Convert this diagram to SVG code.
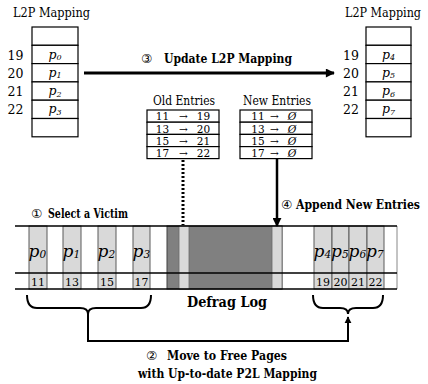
<svg xmlns="http://www.w3.org/2000/svg" width="428" height="384" viewBox="0 0 428 384">
  <defs>
    <style>
      text { font-family: "DejaVu Serif", serif; fill: #000; }
      .circ { font-family: "DejaVu Sans", "Noto Sans CJK JP", sans-serif; font-size: 12.5px; }
      .title { font-size: 12px; }
      .lpn { font-size: 12.5px; }
      .pl { font-size: 12.5px; font-style: italic; }
      .pl tspan { font-size: 8px; }
      .ent { font-size: 10.5px; text-anchor: middle; }
      .head { font-size: 12.5px; }
      .lbl { font-size: 12px; font-weight: bold; }
      .big { font-size: 14px; font-weight: bold; }
      .cell { fill: #fff; stroke: #000; stroke-width: 1.2; }
      .page { fill: #d9d9d9; stroke: #5a5a5a; stroke-width: 1; }
      .lp { font-size: 17px; font-style: italic; }
      .lp tspan { font-size: 10.5px; }
      .num { font-size: 11px; }
      .wire { fill: none; stroke: #000; stroke-width: 2; }
    </style>
    <marker id="head" viewBox="0 0 10 10" refX="9" refY="5" markerWidth="3.5" markerHeight="3" orient="auto" markerUnits="strokeWidth">
      <path d="M0,0 L10,5 L0,10 z" fill="#000"/>
    </marker>
    <marker id="headS" viewBox="0 0 10 10" refX="9" refY="5" markerWidth="3.6" markerHeight="3.6" orient="auto" markerUnits="strokeWidth">
      <path d="M0,0 L10,5 L0,10 z" fill="#000"/>
    </marker>
  </defs>

  <!-- Left L2P mapping table -->
  <g id="l2p-old">
    <text class="title" x="13" y="17" textLength="77" lengthAdjust="spacingAndGlyphs">L2P Mapping</text>
    <rect class="cell" x="32" y="27" width="46" height="18.3"/>
    <rect class="cell" x="32" y="45.3" width="46" height="18.3"/>
    <rect class="cell" x="32" y="63.6" width="46" height="18.3"/>
    <rect class="cell" x="32" y="81.9" width="46" height="18.3"/>
    <rect class="cell" x="32" y="100.2" width="46" height="18.3"/>
    <rect class="cell" x="32" y="118.5" width="46" height="18.3"/>
    <text class="lpn" x="7.5" y="59.5">19</text>
    <text class="lpn" x="7.5" y="77.5">20</text>
    <text class="lpn" x="7.5" y="95.5">21</text>
    <text class="lpn" x="7.5" y="113.5">22</text>
    <text class="pl" x="55" y="58.5" text-anchor="middle">p<tspan dy="1.5">0</tspan></text>
    <text class="pl" x="55" y="76.8" text-anchor="middle">p<tspan dy="1.5">1</tspan></text>
    <text class="pl" x="55" y="95.1" text-anchor="middle">p<tspan dy="1.5">2</tspan></text>
    <text class="pl" x="55" y="113.4" text-anchor="middle">p<tspan dy="1.5">3</tspan></text>
  </g>

  <!-- Right L2P mapping table -->
  <g id="l2p-new">
    <text class="title" x="345" y="17" textLength="76" lengthAdjust="spacingAndGlyphs">L2P Mapping</text>
    <rect class="cell" x="366" y="27" width="45" height="18.3"/>
    <rect class="cell" x="366" y="45.3" width="45" height="18.3"/>
    <rect class="cell" x="366" y="63.6" width="45" height="18.3"/>
    <rect class="cell" x="366" y="81.9" width="45" height="18.3"/>
    <rect class="cell" x="366" y="100.2" width="45" height="18.3"/>
    <rect class="cell" x="366" y="118.5" width="45" height="18.3"/>
    <text class="lpn" x="343" y="59.5">19</text>
    <text class="lpn" x="343" y="77.5">20</text>
    <text class="lpn" x="343" y="95.5">21</text>
    <text class="lpn" x="343" y="113.5">22</text>
    <text class="pl" x="388.5" y="58.5" text-anchor="middle">p<tspan dy="1.5">4</tspan></text>
    <text class="pl" x="388.5" y="76.8" text-anchor="middle">p<tspan dy="1.5">5</tspan></text>
    <text class="pl" x="388.5" y="95.1" text-anchor="middle">p<tspan dy="1.5">6</tspan></text>
    <text class="pl" x="388.5" y="113.4" text-anchor="middle">p<tspan dy="1.5">7</tspan></text>
  </g>

  <!-- Old entries table -->
  <g id="old-entries">
    <text class="head" x="153" y="105" textLength="62" lengthAdjust="spacingAndGlyphs">Old Entries</text>
    <rect class="cell" x="147" y="110" width="72" height="12.2"/>
    <rect class="cell" x="147" y="122.2" width="72" height="12.2"/>
    <rect class="cell" x="147" y="134.4" width="72" height="12.2"/>
    <rect class="cell" x="147" y="146.6" width="72" height="12"/>
    <text class="ent" y="120.3"><tspan x="162.5">11</tspan><tspan x="183.5">→</tspan><tspan x="203.5">19</tspan></text>
    <text class="ent" y="132.5"><tspan x="162.5">13</tspan><tspan x="183.5">→</tspan><tspan x="203.5">20</tspan></text>
    <text class="ent" y="144.7"><tspan x="162.5">15</tspan><tspan x="183.5">→</tspan><tspan x="203.5">21</tspan></text>
    <text class="ent" y="156.8"><tspan x="162.5">17</tspan><tspan x="183.5">→</tspan><tspan x="203.5">22</tspan></text>
  </g>

  <!-- New entries table -->
  <g id="new-entries">
    <text class="head" x="243" y="105" textLength="68" lengthAdjust="spacingAndGlyphs">New Entries</text>
    <rect class="cell" x="240" y="110" width="72" height="12.2"/>
    <rect class="cell" x="240" y="122.2" width="72" height="12.2"/>
    <rect class="cell" x="240" y="134.4" width="72" height="12.2"/>
    <rect class="cell" x="240" y="146.6" width="72" height="12"/>
    <text class="ent" y="120.3"><tspan x="258">11</tspan><tspan x="274.5">→</tspan><tspan x="292" font-style="italic">Ø</tspan></text>
    <text class="ent" y="132.5"><tspan x="258">13</tspan><tspan x="274.5">→</tspan><tspan x="292" font-style="italic">Ø</tspan></text>
    <text class="ent" y="144.7"><tspan x="258">15</tspan><tspan x="274.5">→</tspan><tspan x="292" font-style="italic">Ø</tspan></text>
    <text class="ent" y="156.8"><tspan x="258">17</tspan><tspan x="274.5">→</tspan><tspan x="292" font-style="italic">Ø</tspan></text>
  </g>

  <!-- Flash log strip -->
  <g id="defrag-log">
    <!-- victim pages -->
    <rect class="page" x="29" y="226" width="18" height="63"/>
    <rect class="page" x="63" y="226" width="18" height="63"/>
    <rect class="page" x="98" y="226" width="18" height="63"/>
    <rect class="page" x="133" y="226" width="17" height="63"/>
    <!-- defrag log block -->
    <rect x="167" y="226" width="115" height="63" fill="#808080" stroke="#404040" stroke-width="1"/>
    <rect x="179" y="226" width="10" height="63" fill="#d9d9d9" stroke="#6a6a6a" stroke-width="0.8"/>
    <rect x="272" y="226" width="10" height="63" fill="#d9d9d9" stroke="#6a6a6a" stroke-width="0.8"/>
    <!-- relocated pages -->
    <rect class="page" x="314" y="226" width="18" height="63"/>
    <rect class="page" x="332" y="226" width="17" height="63"/>
    <rect class="page" x="349" y="226" width="18" height="63"/>
    <rect class="page" x="367" y="226" width="17" height="63"/>
    <line x1="397" y1="226" x2="397" y2="289" stroke="#888" stroke-width="1"/>
    <!-- strip rails -->
    <line x1="15" y1="226" x2="397" y2="226" stroke="#000" stroke-width="1.5"/>
    <line x1="15" y1="273" x2="397" y2="273" stroke="#000" stroke-width="1.5"/>
    <line x1="15" y1="289" x2="397" y2="289" stroke="#000" stroke-width="1.5"/>
    <!-- page labels -->
    <text class="lp" x="28.5" y="257">p<tspan dy="1">0</tspan></text>
    <text class="lp" x="62.5" y="257">p<tspan dy="1">1</tspan></text>
    <text class="lp" x="97.5" y="257">p<tspan dy="1">2</tspan></text>
    <text class="lp" x="132.5" y="257">p<tspan dy="1">3</tspan></text>
    <text class="lp" x="313.5" y="257">p<tspan dy="1">4</tspan></text>
    <text class="lp" x="331" y="257">p<tspan dy="1">5</tspan></text>
    <text class="lp" x="348.5" y="257">p<tspan dy="1">6</tspan></text>
    <text class="lp" x="366" y="257">p<tspan dy="1">7</tspan></text>
    <text class="num" x="38" y="285.5" text-anchor="middle">11</text>
    <text class="num" x="72" y="285.5" text-anchor="middle">13</text>
    <text class="num" x="107" y="285.5" text-anchor="middle">15</text>
    <text class="num" x="141.5" y="285.5" text-anchor="middle">17</text>
    <text class="num" x="323" y="285.5" text-anchor="middle">19</text>
    <text class="num" x="340.5" y="285.5" text-anchor="middle">20</text>
    <text class="num" x="358" y="285.5" text-anchor="middle">21</text>
    <text class="num" x="375.5" y="285.5" text-anchor="middle">22</text>
    <text class="big" x="187" y="307" textLength="80" lengthAdjust="spacingAndGlyphs">Defrag Log</text>
  </g>

  <!-- Step labels -->
  <g id="labels">
    <text class="circ" x="141" y="63">③</text>
    <text class="lbl" x="164" y="63" textLength="128" lengthAdjust="spacingAndGlyphs">Update L2P Mapping</text>
    <text class="circ" x="31" y="218">①</text>
    <text class="lbl" x="48" y="218" textLength="80" lengthAdjust="spacingAndGlyphs">Select a Victim</text>
    <text class="circ" x="281" y="209">④</text>
    <text class="lbl" x="296" y="209" textLength="124" lengthAdjust="spacingAndGlyphs">Append New Entries</text>
    <text class="circ" x="146" y="360">②</text>
    <text class="lbl" x="167" y="360" textLength="120" lengthAdjust="spacingAndGlyphs">Move to Free Pages</text>
    <text class="lbl" x="138" y="378" textLength="179" lengthAdjust="spacingAndGlyphs">with Up-to-date P2L Mapping</text>
  </g>

  <!-- Connectors -->
  <g id="connectors">
    <line x1="84" y1="73" x2="334" y2="73" stroke="#000" stroke-width="3" marker-end="url(#head)"/>
    <line x1="183" y1="160" x2="183" y2="225" stroke="#000" stroke-width="3" stroke-dasharray="2 2"/>
    <line x1="277" y1="158" x2="277" y2="226" stroke="#000" stroke-width="2.5" marker-end="url(#headS)"/>
    <path class="wire" d="M27,295 Q27,308 37,308 L80,308 Q88,308 88,314 Q88,308 96,308 L141,308 Q151,308 151,295"/>
    <path class="wire" d="M313,295 Q313,308 323,308 L340,308 Q348,308 348,314 Q348,308 356,308 L373,308 Q383,308 383,295"/>
    <path class="wire" d="M88,313 L88,341 L348,341 L348,317" marker-end="url(#headS)"/>
  </g>
</svg>
